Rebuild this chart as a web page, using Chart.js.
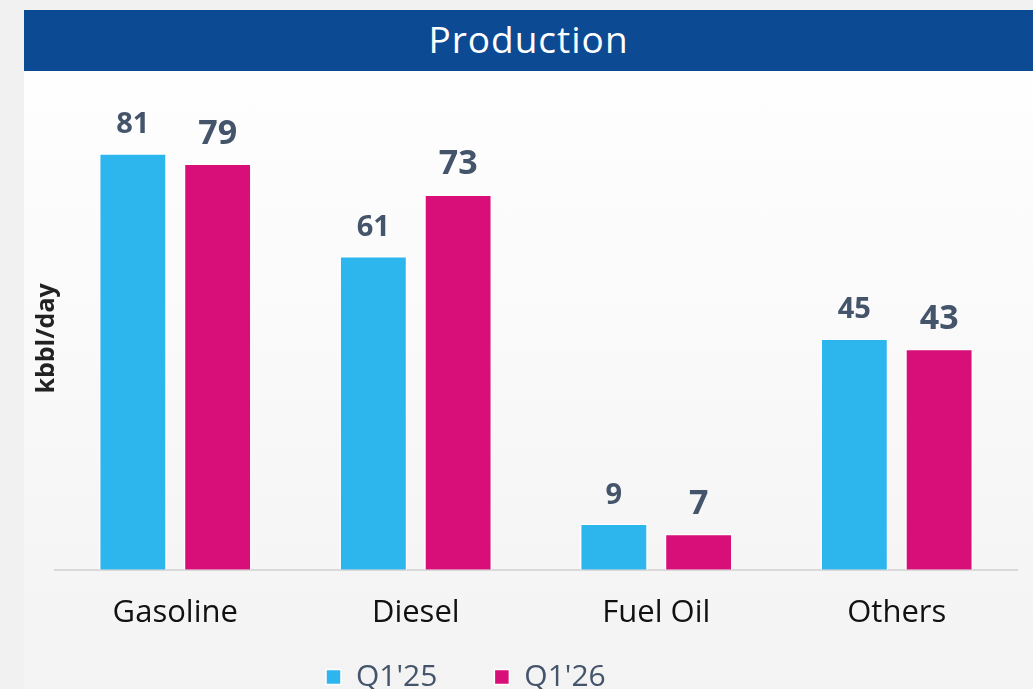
<!DOCTYPE html>
<html>
<head>
<meta charset="utf-8">
<script src="https://cdn.jsdelivr.net/npm/chart.js@4/dist/chart.umd.min.js"></script>
<style>
  html, body { margin: 0; padding: 0; }
  body { width: 1033px; height: 689px; background: #f1f1f1; position: relative; overflow: hidden; font-family: "Open Sans", sans-serif; }
  .panel { position: absolute; left: 24px; top: 11px; width: 1009px; height: 678px; background: linear-gradient(#ffffff, #fdfdfd 20%, #f3f3f3); }
  .title { position: absolute; left: 24px; top: 10px; width: 1009px; height: 61px; background: #0c4a94; color: #fff; font-size: 37px; line-height: 58px; text-align: center; letter-spacing: 1px; }
  .wrap { position: absolute; left: 0; top: 0; width: 1033px; height: 689px; }
</style>
</head>
<body>
<div class="panel"></div>
<div class="title">Production</div>
<div class="wrap"><canvas id="chart" width="1033" height="689"></canvas></div>
<script>
/* ==========================================
   DATA
========================================== */

const categories = ["Gasoline", "Diesel", "Fuel Oil", "Others"];
const seriesNames = ["Q1'25", "Q1'26"];
const q125 = [81, 61, 9, 45];
const q126 = [79, 73, 7, 43];
const axisTitle = "kbbl/day";


/* ==========================================
   VALUE LABELS ABOVE BARS
========================================== */

const valueLabels = {
    id: "valueLabels",
    afterDatasetsDraw(chart) {
        const ctx = chart.ctx;
        chart.data.datasets.forEach((ds, i) => {
            const meta = chart.getDatasetMeta(i);
            ctx.save();
            ctx.font = "bold " + ds.labelSize + "px 'Open Sans'";
            ctx.fillStyle = "#44546a";
            ctx.textAlign = "center";
            ctx.textBaseline = "alphabetic";
            meta.data.forEach((bar, j) => {
                ctx.fillText(ds.data[j], bar.x, bar.y - 20);
            });
            ctx.restore();
        });
    }
};

// move the legend to where it sits in the picture
const legendSpot = {
    id: "legendSpot",
    afterLayout(chart) {
        const lg = chart.legend;
        const pad = lg.options.labels.padding;
        lg.left = 326 - pad;
        lg.right = 1033;
        lg.top = 677 - pad - 15;
        lg.bottom = 689;
    }
};


/* ==========================================
   CHART
========================================== */

new Chart(document.getElementById("chart"), {

    type: "bar",

    data: {
        labels: categories,
        datasets: [
            {
                label: seriesNames[0],
                data: q125,
                backgroundColor: "#2db5ee",
                borderColor: "#ffffff",
                borderWidth: 1.5,
                labelSize: 29
            },
            {
                label: seriesNames[1],
                data: q126,
                backgroundColor: "#d90f79",
                borderColor: "#ffffff",
                borderWidth: 1.5,
                labelSize: 34
            }
        ]
    },

    options: {
        responsive: false,
        animation: false,
        devicePixelRatio: 1,
        categoryPercentage: 0.705,
        barPercentage: 0.8,
        layout: {
            padding: { left: 18, right: 16, top: 107, bottom: 31 }
        },
        plugins: {
            legend: {
                position: "bottom",
                align: "start",
                maxHeight: 1,
                labels: {
                    boxWidth: 15,
                    boxHeight: 15,
                    padding: 57,
                    color: "#44546a",
                    font: { family: "Open Sans", size: 30 }
                }
            },
            tooltip: { enabled: false }
        },
        scales: {
            x: {
                grid: { display: false, drawTicks: false },
                border: { display: true, color: "#d9d9d9", width: 2 },
                ticks: {
                    padding: 25,
                    color: "#111111",
                    font: { family: "Open Sans", size: 31 }
                }
            },
            y: {
                min: 0,
                max: 90,
                grid: { display: false, drawTicks: false },
                border: { display: false },
                ticks: { display: false },
                title: {
                    display: true,
                    text: axisTitle,
                    color: "#222222",
                    padding: { top: 14, bottom: -7 },
                    font: { family: "Open Sans", size: 25, weight: "bold" }
                }
            }
        }
    },

    plugins: [valueLabels, legendSpot]

});
</script>
</body>
</html>
